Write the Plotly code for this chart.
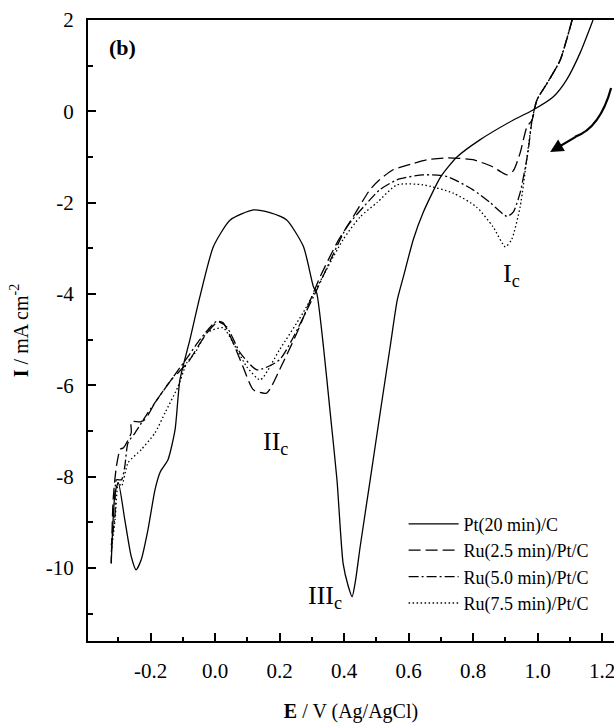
import plotly.graph_objects as go

# ---- data ----
E_pt = [1.172, 1.132, 1.09, 1.049, 0.986, 0.925, 0.82, 0.75, 0.70, 0.645, 0.615, 0.584,
        0.565, 0.543, 0.512, 0.481, 0.45, 0.435, 0.425, 0.413, 0.397, 0.378, 0.357, 0.336,
        0.315, 0.305, 0.274, 0.222, 0.17, 0.119, 0.047, -0.005, -0.047, -0.078, -0.109,
        -0.124, -0.146, -0.17, -0.186, -0.208, -0.229, -0.245, -0.26, -0.28, -0.30, -0.31,
        -0.322]
I_pt = [2.0, 1.28, 0.69, 0.32, 0.03, -0.19, -0.63, -1.0, -1.43, -2.22, -2.8, -3.62,
        -4.13, -5.15, -6.6, -8.07, -9.53, -10.3, -10.63, -10.4, -9.9, -8.07, -6.6, -5.15,
        -3.97, -3.84, -2.96, -2.38, -2.22, -2.16, -2.38, -2.96, -4.06, -5.0, -5.88,
        -6.97, -7.63, -7.9, -8.28, -9.16, -9.82, -10.04, -9.75, -8.94, -8.13, -8.35,
        -9.9]

E_ru25 = [1.107, 1.07, 1.03, 0.998, 0.983, 0.967, 0.946, 0.925, 0.905, 0.885, 0.862, 0.80,
          0.72, 0.657, 0.615, 0.552, 0.51, 0.48, 0.428, 0.378, 0.326, 0.305, 0.254, 0.2,
          0.16, 0.119, 0.087, 0.056, 0.025, 0.01, -0.025, -0.053, -0.084, -0.136, -0.186,
          -0.217, -0.232, -0.26, -0.26, -0.284, -0.294, -0.306, -0.316, -0.322]
I_ru25 = [2.0, 1.12, 0.62, 0.25, -0.19, -0.34, -0.91, -1.3, -1.39, -1.32, -1.22, -1.06,
          -1.02, -1.06, -1.14, -1.28, -1.5, -1.72, -2.31, -2.88, -3.62, -3.97, -4.85, -5.66,
          -6.17, -6.1, -5.6, -5.07, -4.63, -4.6, -4.85, -5.15, -5.5, -5.88, -6.38,
          -6.75, -6.8, -6.8, -7.04, -7.37, -7.4, -7.78, -8.5, -9.9]

E_ru50 = [1.107, 1.07, 1.03, 0.998, 0.983, 0.97, 0.946, 0.925, 0.905, 0.853, 0.80, 0.72,
          0.645, 0.564, 0.51, 0.48, 0.409, 0.305, 0.2, 0.13, 0.078, 0.036, 0.005, -0.047,
          -0.084, -0.136, -0.208, -0.248, -0.27, -0.28, -0.29, -0.306, -0.31, -0.322]
I_ru50 = [2.0, 1.12, 0.62, 0.25, -0.19, -0.91, -1.78, -2.2, -2.3, -2.0, -1.72, -1.43,
          -1.39, -1.5, -1.72, -1.94, -2.53, -4.06, -5.44, -5.66, -5.29, -4.72, -4.6, -5.0,
          -5.37, -5.88, -6.6, -7.04, -7.26, -7.78, -8.07, -8.07, -8.8, -9.5]

E_ru75 = [1.107, 1.07, 1.03, 0.998, 0.983, 0.97, 0.946, 0.92, 0.9, 0.862, 0.81, 0.738,
          0.645, 0.564, 0.502, 0.45, 0.397, 0.273, 0.2, 0.14, 0.099, 0.056, 0.025, -0.025,
          -0.062, -0.087, -0.115, -0.155, -0.186, -0.229, -0.27, -0.29, -0.30, -0.31,
          -0.322]
I_ru75 = [2.0, 1.12, 0.62, 0.25, -0.19, -0.85, -2.09, -2.8, -2.97, -2.53, -2.09, -1.79,
          -1.61, -1.61, -2.0, -2.31, -2.81, -4.41, -5.22, -5.88, -5.6, -5.07, -4.74, -4.85,
          -5.29, -5.5, -6.03, -6.6, -7.04, -7.41, -7.7, -8.21, -8.13, -8.94,
          -9.66]

names = ["Pt(20 min)/C", "Ru(2.5 min)/Pt/C", "Ru(5.0 min)/Pt/C", "Ru(7.5 min)/Pt/C"]

x_tickvals = [-0.2, 0.0, 0.2, 0.4, 0.6, 0.8, 1.0, 1.2]
x_ticktext = ["-0.2", "0.0", "0.2", "0.4", "0.6", "0.8", "1.0", "1.2"]
y_tickvals = [2, 0, -2, -4, -6, -8, -10]
y_ticktext = ["2", "0", "-2", "-4", "-6", "-8", "-10"]

FONT = "Liberation Serif"
series = [(E_pt, I_pt, "solid"), (E_ru25, I_ru25, "12px,5px"),
          (E_ru50, I_ru50, "10px,3px,2px,3px"), (E_ru75, I_ru75, "1.5px,2.5px")]

fig = go.Figure()
for (ex, iy, dash), nm in zip(series, names):
    fig.add_trace(go.Scatter(x=ex, y=iy, mode="lines", name=nm,
                             line=dict(color="black", width=1.3, dash=dash,
                                       shape="spline", smoothing=0.6)))

fig.update_layout(
    width=614, height=727,
    margin=dict(l=88, r=0, t=20, b=86),
    paper_bgcolor="white", plot_bgcolor="white",
    font=dict(family=FONT, color="black", size=20),
    showlegend=True,
    legend=dict(x=0.60, y=0.218, xanchor="left", yanchor="top",
                bgcolor="rgba(0,0,0,0)", font=dict(family=FONT, size=18),
                itemwidth=50, tracegroupgap=0),
    xaxis=dict(range=[-0.394, 1.237], showline=True, linecolor="black", linewidth=2,
               mirror=True, ticks="inside", ticklen=8, tickwidth=2, tickcolor="black",
               tickvals=x_tickvals, ticktext=x_ticktext, showgrid=False, zeroline=False,
               tickfont=dict(size=21), ticklabelstandoff=10, ticklabeloverflow="allow",
               automargin=False,
               minor=dict(ticks="inside", ticklen=4, tickwidth=2, tickcolor="black",
                          dtick=0.1, tick0=0, showgrid=False),
               title=dict(text="<b>E</b> / V (Ag/AgCl)", font=dict(size=20), standoff=22)),
    yaxis=dict(range=[-11.6, 2.0], showline=True, linecolor="black", linewidth=2,
               mirror=False, ticks="inside", ticklen=8, tickwidth=2, tickcolor="black",
               tickvals=y_tickvals, ticktext=y_ticktext, showgrid=False, zeroline=False,
               tickfont=dict(size=21), ticklabelstandoff=8, automargin=False,
               minor=dict(ticks="inside", ticklen=5, tickwidth=2, tickcolor="black",
                          dtick=1, tick0=0, showgrid=False),
               title=dict(text="<b>I</b> / mA cm<sup>-2</sup>", font=dict(size=20), standoff=12)),
)

labels = [("<b>(b)</b>", 0.0665, 0.956, 22),
          ("I<sub>c</sub>", 0.806, 0.589, 26),
          ("II<sub>c</sub>", 0.357, 0.319, 26),
          ("III<sub>c</sub>", 0.451, 0.071, 26)]
for txt, px, py, sz in labels:
    fig.add_annotation(text=txt, x=px, y=py, xref="paper", yref="paper",
                       showarrow=False, font=dict(family=FONT, size=sz),
                       xanchor="center", yanchor="middle")

# curved arrow indicating sweep direction
fig.add_shape(type="path", xref="x", yref="y",
              path="M 1.228,0.51 Q 1.194,-0.363 1.116,-0.56",
              line=dict(color="black", width=2.2))
fig.add_annotation(x=1.039, y=-0.89, xref="x", yref="y", ax=27, ay=-16,
                   showarrow=True, arrowhead=2, arrowsize=1.2, arrowwidth=2.2,
                   arrowcolor="black", text="")

fig.write_html("out.html")
